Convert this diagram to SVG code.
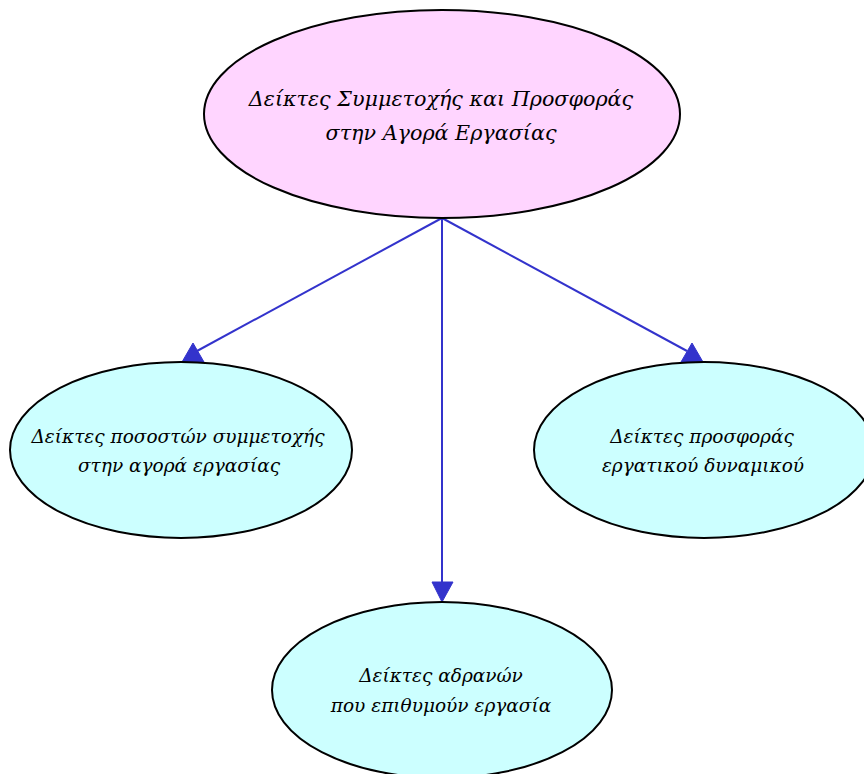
<svg xmlns="http://www.w3.org/2000/svg" width="864" height="774" viewBox="0 0 864 774">
<style>
.node ellipse{stroke:#000;stroke-width:2}
.root ellipse{fill:#ffd5ff}
.leaf ellipse{fill:#ccffff}
text{font-family:"DejaVu Serif","Liberation Serif",serif;font-style:italic;font-size:18.5px;fill:#000;text-anchor:middle}
.root text{font-size:20.7px}
.edge line{stroke:#3333cc;stroke-width:2}
.edge polygon{fill:#3333cc;stroke:#3333cc;stroke-width:1}
</style>
<rect width="864" height="774" fill="#fff"/>
<g id="connectors" class="edge">
<line x1="442" y1="218" x2="197" y2="351"/>
<polygon points="193,343 182,362 204,362"/>
<line x1="687" y1="351" x2="442" y2="218"/>
<polygon points="692,343 681,362 703,362"/>
<line x1="442" y1="218" x2="442" y2="584"/>
<polygon points="432,582 453,582 442,602"/>
</g>
<g id="root" class="node root">
<ellipse cx="442" cy="114" rx="238" ry="104"/>
<text x="441" y="106">Δείκτες Συμμετοχής και Προσφοράς</text>
<text x="441" y="140">στην Αγορά Εργασίας</text>
</g>
<g id="participation" class="node leaf">
<ellipse cx="181" cy="450" rx="171" ry="88"/>
<text x="178" y="443">Δείκτες ποσοστών συμμετοχής</text>
<text x="179" y="472">στην αγορά εργασίας</text>
</g>
<g id="supply" class="node leaf">
<ellipse cx="704" cy="450" rx="170" ry="88"/>
<text x="702" y="443">Δείκτες προσφοράς</text>
<text x="703" y="472">εργατικού δυναμικού</text>
</g>
<g id="inactive" class="node leaf">
<ellipse cx="442" cy="690" rx="170" ry="88"/>
<text x="441" y="682">Δείκτες αδρανών</text>
<text x="441" y="712">που επιθυμούν εργασία</text>
</g>
</svg>
